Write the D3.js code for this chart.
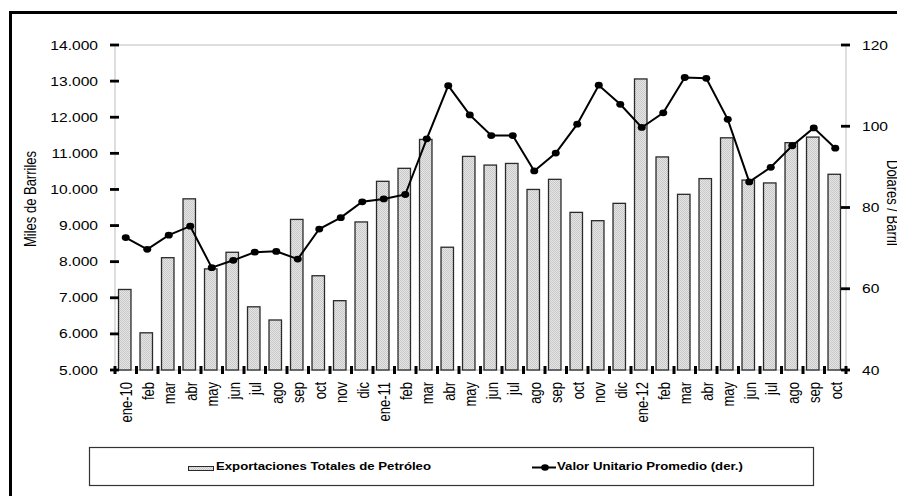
<!DOCTYPE html>
<html>
<head>
<meta charset="utf-8">
<script src="https://cdn.jsdelivr.net/npm/d3@7"></script>
<style>
  body { margin: 0; background: #fff; }
  svg text { font-family: "Liberation Sans", Arial, sans-serif; fill: #000; }
</style>
</head>
<body>
<svg id="chart" width="897" height="496"></svg>
<script>
// Data
var months = ["ene-10", "feb", "mar", "abr", "may", "jun", "jul", "ago", "sep", "oct", "nov", "dic",
              "ene-11", "feb", "mar", "abr", "may", "jun", "jul", "ago", "sep", "oct", "nov", "dic",
              "ene-12", "feb", "mar", "abr", "may", "jun", "jul", "ago", "sep", "oct"];
// Exportaciones Totales de Petróleo (miles de barriles)
var exportaciones = [7230, 6030, 8110, 9740, 7800, 8260, 6750, 6385, 9170, 7610, 6920, 9100,
                     10225, 10585, 11385, 8400, 10915, 10675, 10720, 10000, 10280, 9365, 9135, 9615,
                     13060, 10900, 9865, 10300, 11430, 10260, 10180, 11295, 11450, 10420];
// Valor Unitario Promedio (dólares / barril)
var valor = [72.6, 69.7, 73.2, 75.4, 65.2, 67.0, 69.0, 69.2, 67.3, 74.7, 77.5, 81.4,
             82.1, 83.2, 96.9, 110.0, 102.8, 97.7, 97.7, 89.0, 93.4, 100.5, 110.1, 105.4,
             99.7, 103.3, 112.0, 111.8, 101.7, 86.3, 89.9, 95.2, 99.6, 94.6];
var leftTicks = [5000, 6000, 7000, 8000, 9000, 10000, 11000, 12000, 13000, 14000];
var rightTicks = [40, 60, 80, 100, 120];

// the original picture is stretched sideways, so text gets the same stretch
var SX = 1.2;

var svg = d3.select("#chart");
var pLeft = 115, pRight = 846, pTop = 45, pBottom = 370;

var fmt = d3.formatLocale({decimal: ",", thousands: ".", grouping: [3], currency: ["", ""]}).format(",");

var idx = months.map(function(d, i) { return i; });
var x = d3.scaleBand().domain(idx).range([pLeft, pRight]).paddingInner(0.42).paddingOuter(0.21);
var step = x.step();
var yL = d3.scaleLinear().domain([5000, 14000]).range([pBottom, pTop]);
var yR = d3.scaleLinear().domain([40, 120]).range([pBottom, pTop]);

// bar fill pattern (dithered gray)
var defs = svg.append("defs");
var pat = defs.append("pattern").attr("id", "dots")
    .attr("patternUnits", "userSpaceOnUse").attr("width", 2).attr("height", 2);
pat.append("rect").attr("width", 2).attr("height", 2).attr("fill", "#e6e6e6");
pat.append("rect").attr("width", 1).attr("height", 1).attr("fill", "#c8c8c8");
pat.append("rect").attr("x", 1).attr("y", 1).attr("width", 1).attr("height", 1).attr("fill", "#c8c8c8");

// outer frame
svg.append("rect").attr("x", 10.5).attr("y", 12.5).attr("width", 900).attr("height", 500)
    .attr("fill", "none").attr("stroke", "#000").attr("stroke-width", 3);

// plot area border
svg.append("rect").attr("x", pLeft).attr("y", pTop).attr("width", pRight - pLeft).attr("height", pBottom - pTop)
    .attr("fill", "none").attr("stroke", "#d4d4d4").attr("stroke-width", 1.5);

// bars
svg.append("g").selectAll("rect").data(exportaciones).enter().append("rect")
    .attr("x", function(d, i) { return x(i) - 1; })
    .attr("y", function(d) { return yL(d); })
    .attr("width", x.bandwidth())
    .attr("height", function(d) { return yL(5000) - yL(d); })
    .attr("fill", "url(#dots)")
    .attr("stroke", "#2a2a2a")
    .attr("stroke-width", 1.3);

// line
var line = d3.line()
    .x(function(d, i) { return x(i) + x.bandwidth() / 2; })
    .y(function(d) { return yR(d); });
svg.append("path").datum(valor).attr("d", line)
    .attr("fill", "none").attr("stroke", "#000").attr("stroke-width", 2);
svg.append("g").selectAll("ellipse").data(valor).enter().append("ellipse")
    .attr("cx", function(d, i) { return x(i) + x.bandwidth() / 2; })
    .attr("cy", function(d) { return yR(d); })
    .attr("rx", 4).attr("ry", 3.4)
    .attr("fill", "#000");

// left axis
var gl = svg.append("g");
gl.selectAll("line").data(leftTicks).enter().append("line")
    .attr("x1", pLeft - 5).attr("x2", pLeft + 4)
    .attr("y1", function(d) { return yL(d); }).attr("y2", function(d) { return yL(d); })
    .attr("stroke", "#000").attr("stroke-width", 2.8);
gl.selectAll("text").data(leftTicks).enter().append("text")
    .attr("transform", function(d) { return "translate(98," + yL(d) + ") scale(" + SX + ",1)"; })
    .attr("dy", "0.35em").attr("text-anchor", "end").attr("font-size", 13)
    .text(function(d) { return fmt(d); });

// right axis
var gr = svg.append("g");
gr.selectAll("line").data(rightTicks).enter().append("line")
    .attr("x1", pRight - 5).attr("x2", pRight + 4)
    .attr("y1", function(d) { return yR(d); }).attr("y2", function(d) { return yR(d); })
    .attr("stroke", "#000").attr("stroke-width", 2.8);
gr.selectAll("text").data(rightTicks).enter().append("text")
    .attr("transform", function(d) { return "translate(862," + yR(d) + ") scale(" + SX + ",1)"; })
    .attr("dy", "0.35em").attr("text-anchor", "start").attr("font-size", 13)
    .text(function(d) { return d; });

// category ticks (between bars)
var edges = idx.map(function(i) { return x(i) - x.paddingOuter() * step; });
edges.push(pRight);
svg.append("g").selectAll("line").data(edges).enter().append("line")
    .attr("x1", function(d) { return d; }).attr("x2", function(d) { return d; })
    .attr("y1", pBottom - 4).attr("y2", pBottom + 4)
    .attr("stroke", "#000").attr("stroke-width", 3);

// category labels
svg.append("g").selectAll("text").data(months).enter().append("text")
    .attr("transform", function(d, i) {
        return "translate(" + (x(i) + x.bandwidth() / 2 + 6.5) + ",382) scale(" + SX + ",1) rotate(-90)";
    })
    .attr("text-anchor", "end").attr("font-size", 13)
    .text(function(d) { return d; });

// axis titles
svg.append("text")
    .attr("transform", "translate(36,199) scale(" + SX + ",1) rotate(-90)")
    .attr("text-anchor", "middle").attr("font-size", 13)
    .text("Miles de Barriles");
svg.append("text")
    .attr("transform", "translate(887,160) scale(" + SX + ",1) rotate(90)")
    .attr("text-anchor", "start").attr("font-size", 13)
    .text("Dólares / Barril");

// legend
var lg = svg.append("g");
lg.append("rect").attr("x", 89.5).attr("y", 447.5).attr("width", 724).attr("height", 38)
    .attr("fill", "#fff").attr("stroke", "#333").attr("stroke-width", 1.2);
lg.append("rect").attr("x", 188.5).attr("y", 466.5).attr("width", 25).attr("height", 4)
    .attr("fill", "url(#dots)").attr("stroke", "#2a2a2a").attr("stroke-width", 1);
lg.append("text").attr("transform", "translate(216,470) scale(" + SX + ",1)")
    .attr("font-size", 11).attr("font-weight", "bold")
    .text("Exportaciones Totales de Petróleo");
lg.append("line").attr("x1", 532).attr("x2", 556).attr("y1", 467.5).attr("y2", 467.5)
    .attr("stroke", "#000").attr("stroke-width", 2);
lg.append("ellipse").attr("cx", 545).attr("cy", 467.5).attr("rx", 3.8).attr("ry", 3.2).attr("fill", "#000");
lg.append("text").attr("transform", "translate(557,470) scale(" + SX + ",1)")
    .attr("font-size", 11).attr("font-weight", "bold")
    .text("Valor Unitario Promedio (der.)");
</script>
</body>
</html>
